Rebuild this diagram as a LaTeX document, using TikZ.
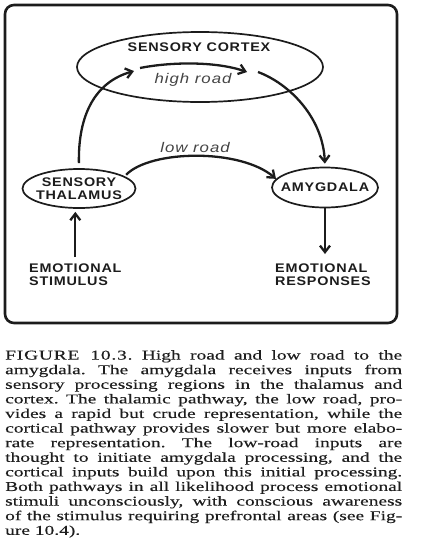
\documentclass[tikz,border=0pt]{standalone}
\usepackage{fontspec}
\usetikzlibrary{arrows.meta,shapes.geometric}
\newfontfamily\diagfont{Liberation Sans}[FakeStretch=1.15,LetterSpace=6]
\newfontfamily\roadfont{Liberation Sans}[FakeStretch=1.2,LetterSpace=7]
\newfontfamily\capfont{Liberation Serif}[FakeStretch=1.44,FakeBold=0.25]
\definecolor{ink}{HTML}{1C1C1C}
\definecolor{roadgray}{HTML}{444444}
\definecolor{captext}{HTML}{1E1E1E}
\begin{document}
\begin{tikzpicture}[x=1pt,y=-1pt,
  frame/.style={draw=ink,line width=2.6pt,rounded corners=9pt},
  region/.style={draw=ink,line width=1.7pt,ellipse,inner ysep=0pt,align=center,
    text=ink,font=\diagfont\bfseries\fontsize{12.5}{12.5}\selectfont},
  lbl/.style={inner sep=0pt,text=ink,font=\diagfont\bfseries\fontsize{12.5}{13}\selectfont},
  road/.style={inner sep=0pt,text=roadgray,font=\roadfont\itshape\fontsize{14}{16}\selectfont},
  arr/.style={draw=ink,line width=2.3pt,-{Straight Barb[length=6.5pt,width=10pt]}},
  captxt/.style={inner sep=0pt,align=left,text=captext,
    font=\capfont\frenchspacing\fontsize{13.5}{14.6}\selectfont}]
\useasboundingbox (0,0) rectangle (424,544);
\draw[frame] (5,5) rectangle (397,323);
% regions
\node[region,minimum width=246pt,minimum height=70pt] (ctx) at (200,67) {};
\node[lbl] (ctxlbl) at (199,47) {SENSORY CORTEX};
\node[region,inner xsep=-8pt,minimum width=113pt,minimum height=39pt] (thal) at (79,188.5) {SENSORY\\THALAMUS};
\node[region,inner xsep=-10pt,minimum width=106pt,minimum height=40pt] (amy) at (325,187.5) {AMYGDALA};
\node[lbl,anchor=north west,align=left] (stim) at (29,264) {EMOTIONAL\\STIMULUS};
\node[lbl,anchor=north west,align=left] (resp) at (275,264) {EMOTIONAL\\RESPONSES};
\node[road] (high) at (193,80) {high road};
\node[road] (low) at (195,147) {low road};
% connector ends inside the cortex
\coordinate (ctxin) at (134,71);
\coordinate (hrs) at (140,68);
\coordinate (hre) at (247,72);
\coordinate (ctxout) at (258,72);
% connectors
\draw[arr,shorten <=7pt,shorten >=3pt] (stim.north) -- (stim.north |- thal.south);
\draw[arr,shorten <=5pt] (thal.north) .. controls (78,115) and (95,82) .. (ctxin);
\draw[arr] (hrs) .. controls (170,62) and (215,61) .. (hre);
\draw[arr,shorten >=3pt] (ctxout) .. controls (290,84) and (323,118) .. (amy.north);
\draw[arr,shorten <=2pt] (thal.15) .. controls (150,150) and (240,148) .. (amy.170);
\draw[arr,shorten >=10pt] (amy.south) -- (amy.south |- resp.north);
% caption
\node[captxt,anchor=north west] (cap) at (5,350) {%
\makebox[397pt][s]{{\addfontfeature{LetterSpace=6}FIGURE 10.3.} High road and low road to the}\\
\makebox[397pt][s]{amygdala. The amygdala receives inputs from}\\
\makebox[397pt][s]{sensory processing regions in the thalamus and}\\
\makebox[397pt][s]{cortex. The thalamic pathway, the low road, pro-}\\
\makebox[397pt][s]{vides a rapid but crude representation, while the}\\
\makebox[397pt][s]{cortical pathway provides slower but more elabo-}\\
\makebox[397pt][s]{rate representation. The low-road inputs are}\\
\makebox[397pt][s]{thought to initiate amygdala processing, and the}\\
\makebox[397pt][s]{cortical inputs build upon this initial processing.}\\
\makebox[397pt][s]{Both pathways in all likelihood process emotional}\\
\makebox[397pt][s]{stimuli unconsciously, with conscious awareness}\\
\makebox[397pt][s]{of the stimulus requiring prefrontal areas (see Fig-}\\
ure 10.4).};
\end{tikzpicture}
\end{document}
